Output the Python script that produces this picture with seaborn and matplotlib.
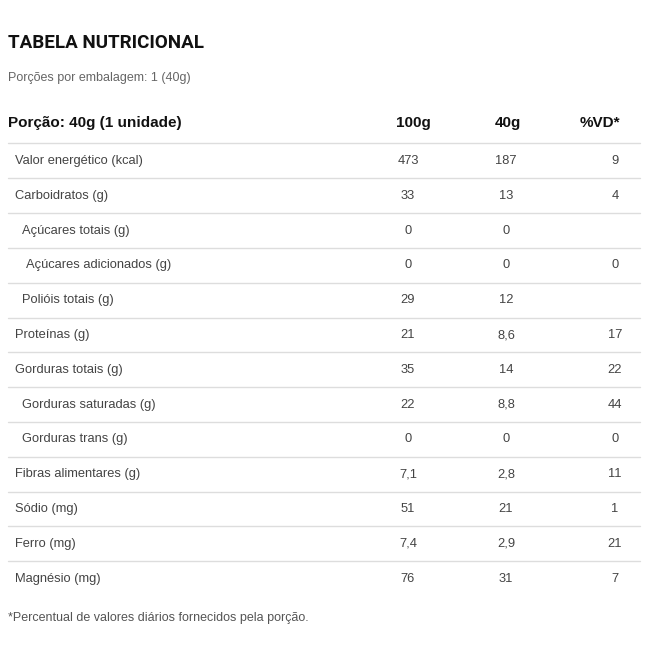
import matplotlib
matplotlib.use("Agg")
from matplotlib import pyplot as plt
import seaborn as sns

title = "TABELA NUTRICIONAL"
subtitle = "Porções por embalagem: 1 (40g)"
header = ["Porção: 40g (1 unidade)", "100g", "40g", "%VD*"]
nutrients = ["Valor energético (kcal)", "Carboidratos (g)", "Açúcares totais (g)",
             "Açúcares adicionados (g)", "Polióis totais (g)", "Proteínas (g)",
             "Gorduras totais (g)", "Gorduras saturadas (g)", "Gorduras trans (g)",
             "Fibras alimentares (g)", "Sódio (mg)", "Ferro (mg)", "Magnésio (mg)"]
indent = [0, 0, 1, 2, 1, 0, 0, 1, 1, 0, 0, 0, 0]
per100 = ["473", "33", "0", "0", "29", "21", "35", "22", "0", "7,1", "51", "7,4", "76"]
per40 = ["187", "13", "0", "0", "12", "8,6", "14", "8,8", "0", "2,8", "21", "2,9", "31"]
vd = ["9", "4", "", "0", "", "17", "22", "44", "0", "11", "1", "21", "7"]
footnote = "*Percentual de valores diários fornecidos pela porção."

sns.set_theme(style="white")
plt.rcParams['font.family'] = ['Liberation Sans', 'DejaVu Sans']

fig = plt.figure(figsize=(6.6, 6.6), dpi=100)
ax = fig.add_axes([0, 0, 1, 1])
ax.set_xlim(0, 660)
ax.set_ylim(660, 0)
ax.axis("off")

ax.text(8, 43, title, fontsize=13.5, fontweight="bold", color="#111111", va="center",
        family=["Roboto", "DejaVu Sans"])
ax.text(8, 78, subtitle, fontsize=9, color="#666666", va="center")

hx = [8, 413, 508, 600]
for i, h in enumerate(header):
    ax.text(hx[i], 123, h, fontsize=11, fontweight="bold", color="#111111", va="center",
            ha="left" if i == 0 else "center")
ax.plot([8, 640], [143, 143], color="#dddddd", lw=1)

step = 34.8
for i, name in enumerate(nutrients):
    y = 161 + i * step
    ax.text(15 + 7 * indent[i] - (3 if indent[i] == 2 else 0), y, name,
            fontsize=9.3, color="#444444", va="center")
    ax.text(408, y, per100[i], fontsize=9.3, color="#444444", va="center", ha="center")
    ax.text(506, y, per40[i], fontsize=9.3, color="#444444", va="center", ha="center")
    ax.text(615, y, vd[i], fontsize=9.3, color="#444444", va="center", ha="center")
    if i < len(nutrients) - 1:
        ax.plot([8, 640], [y + step / 2, y + step / 2], color="#dddddd", lw=1)

ax.text(8, 618, footnote, fontsize=9, color="#555555", va="center")

fig.savefig("out.png", dpi=100, facecolor="white")
